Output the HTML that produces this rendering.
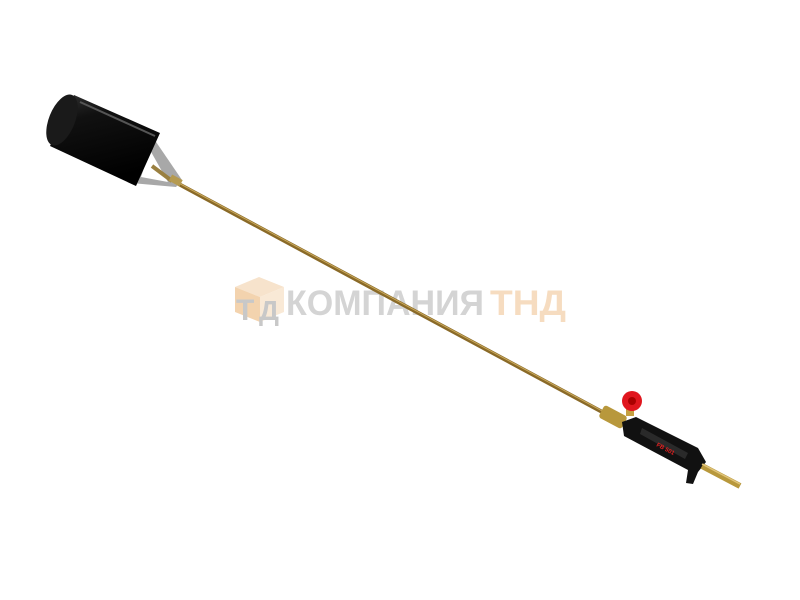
<!DOCTYPE html>
<html><head><meta charset="utf-8"><style>
html,body{margin:0;padding:0;background:#fff;width:800px;height:600px;overflow:hidden}
</style></head><body>
<svg width="800" height="600" viewBox="0 0 800 600" xmlns="http://www.w3.org/2000/svg">
<defs>
<linearGradient id="cyl" x1="0" y1="0" x2="0.3" y2="1">
<stop offset="0" stop-color="#333"/><stop offset="0.3" stop-color="#111"/><stop offset="1" stop-color="#000"/>
</linearGradient>
</defs>
<!-- watermark logo cube -->
<polygon points="235,287 259,277 284,287 260,297" fill="#f7e3cc"/>
<polygon points="235,287 260,297 260,322 235,312" fill="#f3d3ae"/>
<polygon points="260,297 284,287 284,312 260,322" fill="#f9e9d6"/>
<text x="236" y="320" font-family="Liberation Sans, sans-serif" font-weight="bold" font-size="30" fill="#c8c8c8">Т</text>
<text x="259" y="320" font-family="Liberation Sans, sans-serif" font-weight="bold" font-size="28" fill="#c8c8c8">Д</text>
<text x="286" y="315" font-family="Liberation Sans, sans-serif" font-weight="bold" font-size="35" fill="#d4d4d4" textLength="198" lengthAdjust="spacingAndGlyphs">КОМПАНИЯ</text>
<text x="490" y="315" font-family="Liberation Sans, sans-serif" font-weight="bold" font-size="35" fill="#f6dcc0" textLength="76" lengthAdjust="spacingAndGlyphs">ТНД</text>
<!-- rod -->
<line x1="175" y1="182" x2="606" y2="414" stroke="#8a6a28" stroke-width="4"/>
<line x1="175" y1="181" x2="606" y2="413" stroke="#c9a85a" stroke-width="1"/>
<!-- burner cone -->
<polygon points="152,136 131,183 176,187 182,180" fill="#a8a8a8"/>
<polygon points="150,150 141,177 168,182" fill="#fff"/>
<line x1="152" y1="166" x2="172" y2="181" stroke="#9a8040" stroke-width="4"/>
<rect x="170" y="177" width="12" height="7" fill="#b59a50" transform="rotate(28 176 180)"/>
<!-- cylinder -->
<polygon points="74,95 160,133 136,186 50,146" fill="url(#cyl)"/>
<ellipse cx="62" cy="120" rx="13" ry="27" transform="rotate(22 62 120)" fill="#1a1a1a"/>
<line x1="80" y1="102" x2="155" y2="136" stroke="#555" stroke-width="2"/>
<!-- valve and knob -->
<rect x="600" y="410" width="26" height="14" rx="3" fill="#b8983c" transform="rotate(28 613 417)"/>
<rect x="626" y="404" width="8" height="12" fill="#c5a040"/>
<circle cx="632" cy="401" r="10" fill="#e0161e"/>
<circle cx="632" cy="401" r="4" fill="#a00"/>
<!-- handle -->
<polygon points="622,422 636,417 698,448 706,462 698,472 693,484 686,483 688,470 624,436" fill="#111"/>
<polygon points="642,428 688,453 685,459 640,434" fill="#2a2a2a"/>
<text x="656" y="446" font-family="Liberation Sans, sans-serif" font-size="6" font-weight="bold" fill="#e02020" transform="rotate(28 656 446)">FB 501</text>
<!-- nozzle -->
<line x1="702" y1="466" x2="740" y2="486" stroke="#b8983c" stroke-width="6"/>
<line x1="702" y1="464" x2="740" y2="484" stroke="#e0c47a" stroke-width="1.5"/>
</svg>
</body></html>
